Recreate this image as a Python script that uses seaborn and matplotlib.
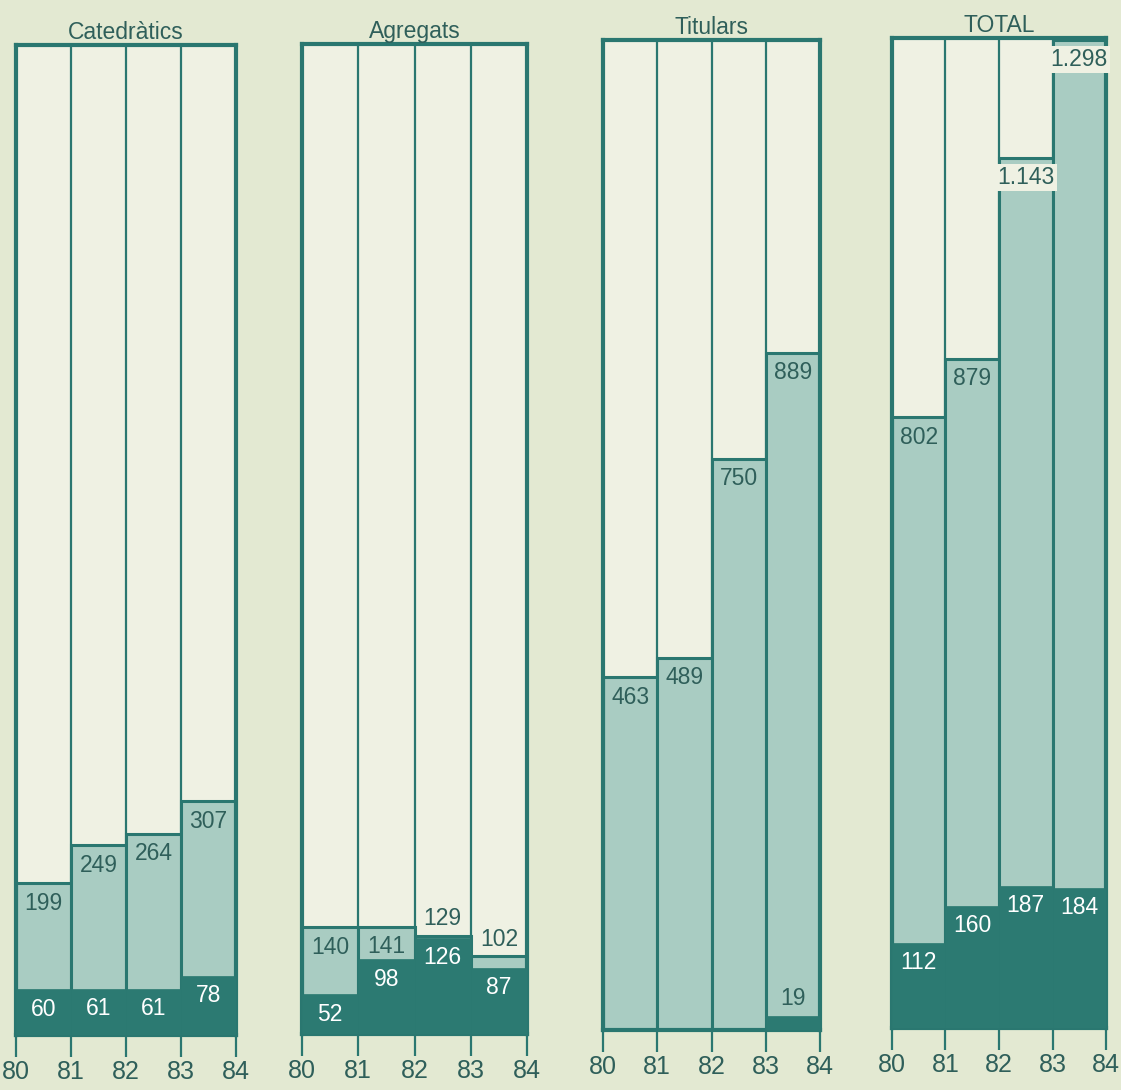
import matplotlib
matplotlib.use("Agg")
import matplotlib.pyplot as plt
import seaborn as sns
import pandas as pd

# ---- data ----
panels = ["Catedràtics", "Agregats", "Titulars", "TOTAL"]
years = ["80", "81", "82", "83", "84"]
bar_years = ["80", "81", "82", "83"]
cat_total = [199, 249, 264, 307]
cat_sub = [60, 61, 61, 78]
agr_total = [140, 141, 129, 102]
agr_sub = [52, 98, 126, 87]
tit_total = [463, 489, 750, 889]
tit_sub = [0, 0, 0, 19]
tot_total = [802, 879, 1143, 1298]
tot_sub = [112, 160, 187, 184]
totals = [cat_total, agr_total, tit_total, tot_total]
subs = [cat_sub, agr_sub, tit_sub, tot_sub]

def fmt(v):
    return f"{v:,}".replace(",", ".")

# ---- style ----
sns.set_theme(style="white")
plt.rcParams["font.family"] = ["Liberation Sans", "DejaVu Sans"]

BG = "#e3e9d2"
CREAM = "#eff1e3"
LIGHT = "#a9ccc2"
DARK = "#2c7a72"
LINE = "#2a7770"
TXT = "#2f5f5a"

W, H = 1121, 1090
fig = plt.figure(figsize=(W / 100, H / 100), dpi=100, facecolor=BG)

# panel rectangles in pixels: left, right, top, bottom
rects = [(16, 236, 45, 1035), (302, 527, 44, 1034), (603, 820, 40, 1030), (892, 1106, 38, 1028)]
YMAX = 1300
FS = 16.5

for name, tot, sub, (l, r, t, b) in zip(panels, totals, subs, rects):
    ax = fig.add_axes([l / W, 1 - b / H, (r - l) / W, (b - t) / H])
    ax.set_facecolor(CREAM)
    df = pd.DataFrame({"year": bar_years, "total": tot, "sub": sub})
    sns.barplot(data=df, x="year", y="total", color=LIGHT, saturation=1, width=1,
                edgecolor=LINE, linewidth=2.2, ax=ax, errorbar=None, zorder=2)
    sns.barplot(data=df, x="year", y="sub", color=DARK, saturation=1, width=1,
                edgecolor=DARK, linewidth=0.5, ax=ax, errorbar=None, zorder=3)
    ax.set_xlim(-0.5, 3.5)
    ax.set_ylim(0, YMAX)
    ax.set_xticks([i - 0.5 for i in range(5)])
    ax.set_xticklabels(years)
    ax.set_yticks([])
    ax.set_xlabel("")
    ax.set_ylabel("")
    ax.grid(True, axis="x", color=LINE, linewidth=1.6)
    ax.grid(False, axis="y")
    ax.set_axisbelow(True)
    for sp in ax.spines.values():
        sp.set_visible(True)
        sp.set_color(LINE)
        sp.set_linewidth(3)
    ax.tick_params(axis="x", direction="out", length=16, width=1.6, color=LINE,
                   labelsize=18, labelcolor=TXT, pad=2, bottom=True)
    ax.set_title(name, fontsize=16.5, color=TXT, pad=4)

    for i, (tv, sv) in enumerate(zip(tot, sub)):
        # total label
        if tv - sv > 30:
            kw = {}
            if tv >= 1000:
                kw = dict(bbox=dict(boxstyle="square,pad=0.1", fc=CREAM, ec="none"))
            ax.annotate(fmt(tv), (i, tv), xytext=(0, -6), textcoords="offset points",
                        ha="center", va="top", fontsize=FS, color=TXT, zorder=5, **kw)
        else:
            ax.annotate(fmt(tv), (i, tv), xytext=(0, 4), textcoords="offset points",
                        ha="center", va="bottom", fontsize=FS, color=TXT, zorder=5)
        # subset label
        if sv > 40:
            ax.annotate(fmt(sv), (i, sv), xytext=(0, -6), textcoords="offset points",
                        ha="center", va="top", fontsize=FS, color="white", zorder=5)
        elif sv > 0:
            ax.annotate(fmt(sv), (i, sv), xytext=(0, 4), textcoords="offset points",
                        ha="center", va="bottom", fontsize=FS, color=TXT, zorder=5)

fig.savefig("out.png", dpi=100, facecolor=BG)
